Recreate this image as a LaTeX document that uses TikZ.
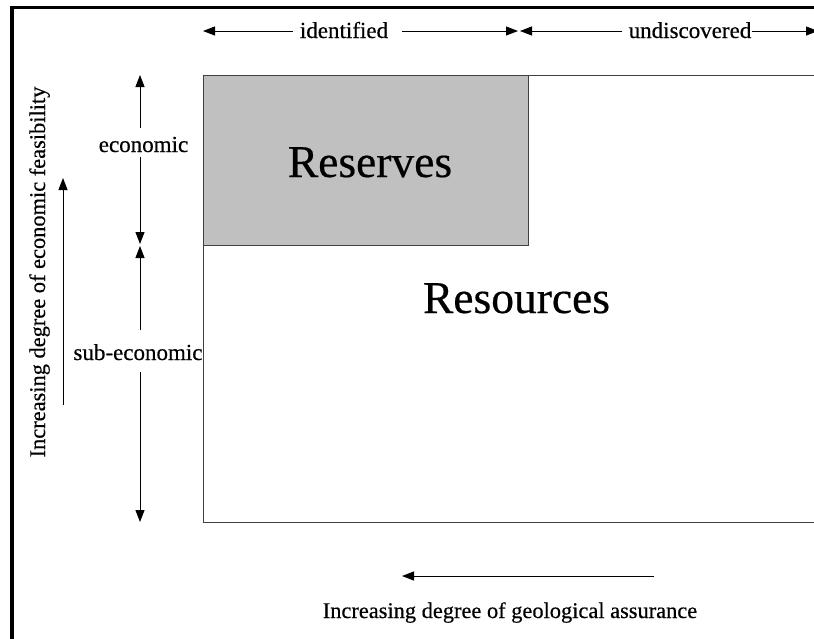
\documentclass[tikz,border=0pt]{standalone}
\usepackage{fontspec}
\setmainfont{Liberation Serif}[FakeBold=0.4]
\usetikzlibrary{arrows.meta}
\definecolor{resgray}{HTML}{C0C0C0}
\definecolor{edgegray}{HTML}{404040}
\begin{document}
\begin{tikzpicture}[x=1pt,y=-1pt,
  lbl/.style={inner sep=0pt,font=\fontsize{23}{25}\selectfont},
  longlbl/.style={inner sep=0pt,font=\fontsize{22.4}{25}\selectfont},
  big/.style={inner sep=0pt,font=\fontsize{45.5}{50}\selectfont},
  arr/.style={line width=1pt,-{Triangle[length=12pt,width=9pt]}},
  box/.style={draw=edgegray,line width=1.3pt,inner sep=0pt,anchor=north west},
  frameline/.style={line width=3.5pt,black}]
\useasboundingbox (0,0) rectangle (814,638);
% frame
\draw[frameline] (10.25,7.5) -- (830,7.5);
\draw[frameline] (12,5.75) -- (12,650);
% boxes
\node[box,minimum width=640pt,minimum height=447pt] (resbox) at (203,75) {};
\node[box,fill=resgray,minimum width=325pt,minimum height=170pt] (reservebox) at (203,75) {};
\node[big,anchor=base] (reserves) at (370,177) {Reserves};
\node[big,anchor=base] (resources) at (516.5,313) {Resources};
% top arrows
\coordinate (t0) at (203,31);
\coordinate (tm1) at (518,31);
\coordinate (tm2) at (520,31);
\coordinate (t1) at (818,31);
\node[lbl,anchor=base] (idtxt) at (344,38) {identified};
\node[lbl,anchor=base] (undtxt) at (690,38) {undiscovered};
\draw[arr] ([xshift=-7pt]t0 -| idtxt.west) -- (t0);
\draw[arr] ([xshift=14pt]t0 -| idtxt.east) -- (tm1);
\draw[arr] ([xshift=-6pt]t0 -| undtxt.west) -- (tm2);
\draw[arr] ([xshift=0pt]t0 -| undtxt.east) -- (t1);
% vertical arrows
\coordinate (e0) at (140,75);
\coordinate (e1) at (140,244);
\coordinate (s0) at (140,246);
\coordinate (s1) at (140,522);
\node[lbl,anchor=base] (econ) at (143.5,152) {economic};
\node[lbl,anchor=base] (subecon) at (138,360) {sub-economic};
\draw[arr] ([yshift=24pt]econ.base -| e0) -- (e0);
\draw[arr] ([yshift=-5pt]econ.base -| e0) -- (e1);
\draw[arr] ([yshift=30pt]subecon.base -| s0) -- (s0);
\draw[arr] ([yshift=-12pt]subecon.base -| s0) -- (s1);
% feasibility arrow
\coordinate (f0) at (63,405);
\coordinate (f1) at (63,178);
\draw[arr] (f0) -- (f1);
\node[longlbl,anchor=base,rotate=90] (feas) at (45,272) {Increasing degree of economic feasibility};
% geological assurance arrow
\coordinate (b0) at (654,576);
\coordinate (b1) at (402,576);
\draw[arr] (b0) -- (b1);
\node[longlbl,anchor=base] (geo) at (510,618) {Increasing degree of geological assurance};
\end{tikzpicture}
\end{document}
